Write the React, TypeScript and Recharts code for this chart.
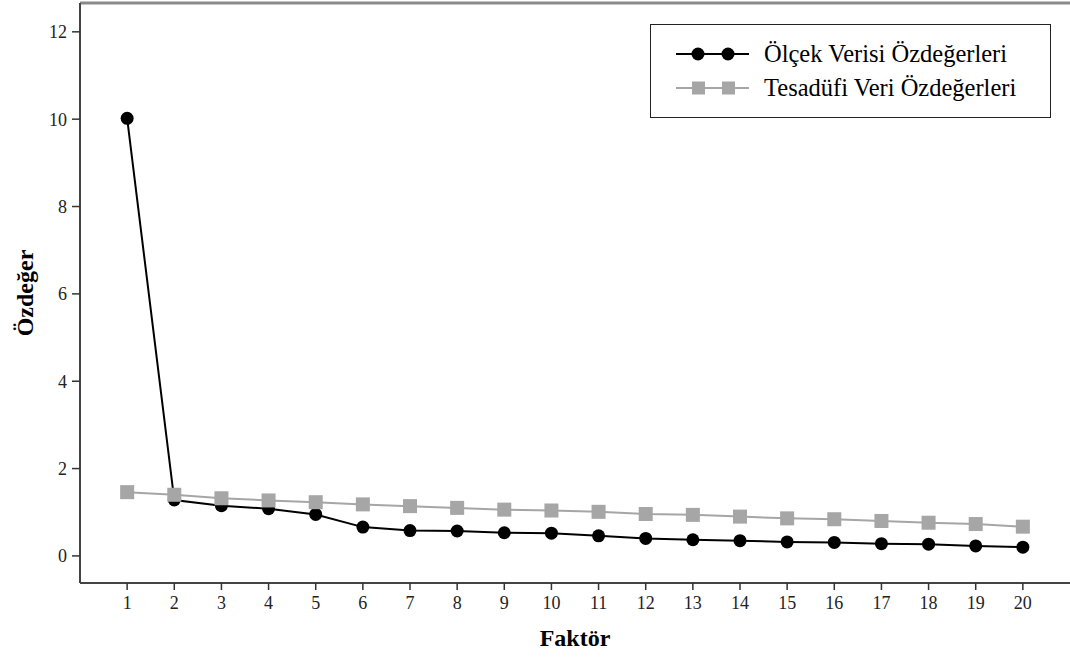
import React from 'react';
import { LineChart, Line, XAxis, YAxis, Legend, ReferenceLine } from 'recharts';

const factors = [1, 2, 3, 4, 5, 6, 7, 8, 9, 10, 11, 12, 13, 14, 15, 16, 17, 18, 19, 20];
const olcekValues = [10.02, 1.28, 1.15, 1.08, 0.95, 0.66, 0.58, 0.57, 0.53, 0.52, 0.46, 0.4, 0.37, 0.35, 0.32, 0.31, 0.28, 0.27, 0.23, 0.2];
const tesadufiValues = [1.46, 1.4, 1.32, 1.27, 1.23, 1.18, 1.14, 1.1, 1.06, 1.04, 1.01, 0.96, 0.94, 0.9, 0.86, 0.84, 0.8, 0.76, 0.73, 0.67];
const yTicks = [0, 2, 4, 6, 8, 10, 12];
const X_DOMAIN: [number, number] = [0, 21];
const Y_DOMAIN: [number, number] = [-0.62, 12.66];

const SERIES_NAMES = ['Ölçek Verisi Özdeğerleri', 'Tesadüfi Veri Özdeğerleri'];

const data = factors.map((f, i) => ({ factor: f, olcek: olcekValues[i], tesadufi: tesadufiValues[i] }));

const FONT = 'Liberation Serif';
const BLACK = '#000000';
const GRAY = '#a6a6a6';

const SquareDot = (props: any) => {
  const { cx, cy, index } = props;
  if (cx == null || cy == null) return null;
  return <rect key={`sq-${index}`} x={cx - 7} y={cy - 7} width={14} height={14} fill={GRAY} />;
};

const LegendBox = () => (
  <div
    style={{
      border: '1px solid #222',
      width: 401,
      height: 94,
      boxSizing: 'border-box',
      background: '#fff',
      fontFamily: FONT,
      fontSize: 24.5,
      color: '#000',
      paddingTop: 12,
    }}
  >
    <div style={{ display: 'flex', alignItems: 'center', height: 34 }}>
      <svg width={113} height={20}>
        <line x1={25} y1={10} x2={98} y2={10} stroke={BLACK} strokeWidth={2} />
        <circle cx={47} cy={10} r={6.5} fill={BLACK} />
        <circle cx={77} cy={10} r={6.5} fill={BLACK} />
      </svg>
      <span>{SERIES_NAMES[0]}</span>
    </div>
    <div style={{ display: 'flex', alignItems: 'center', height: 34 }}>
      <svg width={113} height={20}>
        <line x1={25} y1={10} x2={98} y2={10} stroke={GRAY} strokeWidth={2} />
        <rect x={41} y={3.5} width={13} height={13} fill={GRAY} />
        <rect x={71} y={3.5} width={13} height={13} fill={GRAY} />
      </svg>
      <span>{SERIES_NAMES[1]}</span>
    </div>
  </div>
);

export default function App() {
  return (
    <div style={{ position: 'absolute', left: 0, top: 0, background: '#fff', fontFamily: FONT }}>
      <LineChart width={1070} height={659} data={data} margin={{ top: 3, right: 0, bottom: 26, left: 20 }}>
        <XAxis
          dataKey="factor"
          type="number"
          domain={X_DOMAIN}
          ticks={factors}
          interval={0}
          allowDataOverflow
          height={50}
          tickSize={7}
          tickMargin={6}
          axisLine={{ stroke: '#444', strokeWidth: 2 }}
          tickLine={{ stroke: '#333', strokeWidth: 1.5 }}
          tick={{ fill: '#222', fontSize: 18, fontFamily: FONT }}
          label={{
            value: 'Faktör',
            position: 'insideBottom',
            offset: -13,
            style: { fontFamily: FONT, fontSize: 24, fontWeight: 'bold', fill: '#000' },
          }}
        />
        <YAxis
          type="number"
          domain={Y_DOMAIN}
          ticks={yTicks}
          allowDataOverflow
          width={60}
          tickSize={8}
          tickMargin={5}
          axisLine={{ stroke: '#444', strokeWidth: 2 }}
          tickLine={{ stroke: '#333', strokeWidth: 1.5 }}
          tick={{ fill: '#222', fontSize: 18, fontFamily: FONT }}
          label={{
            value: 'Özdeğer',
            angle: -90,
            position: 'insideLeft',
            offset: 4,
            style: { fontFamily: FONT, fontSize: 24, fontWeight: 'bold', fill: '#000', textAnchor: 'middle' },
          }}
        />
        <ReferenceLine y={Y_DOMAIN[1]} stroke="#8a8a8a" strokeWidth={3} ifOverflow="visible" />
        <Legend
          layout="vertical"
          align="center"
          verticalAlign="middle"
          content={() => <LegendBox />}
          wrapperStyle={{ left: 650, top: 24, width: 401, height: 94 }}
        />
        <Line
          type="linear"
          dataKey="olcek"
          name={SERIES_NAMES[0]}
          stroke={BLACK}
          strokeWidth={2}
          dot={{ r: 6.5, fill: BLACK, stroke: BLACK, strokeWidth: 0 }}
          activeDot={false}
          isAnimationActive={false}
        />
        <Line
          type="linear"
          dataKey="tesadufi"
          name={SERIES_NAMES[1]}
          stroke={GRAY}
          strokeWidth={2}
          dot={SquareDot}
          activeDot={false}
          isAnimationActive={false}
        />
      </LineChart>
    </div>
  );
}
